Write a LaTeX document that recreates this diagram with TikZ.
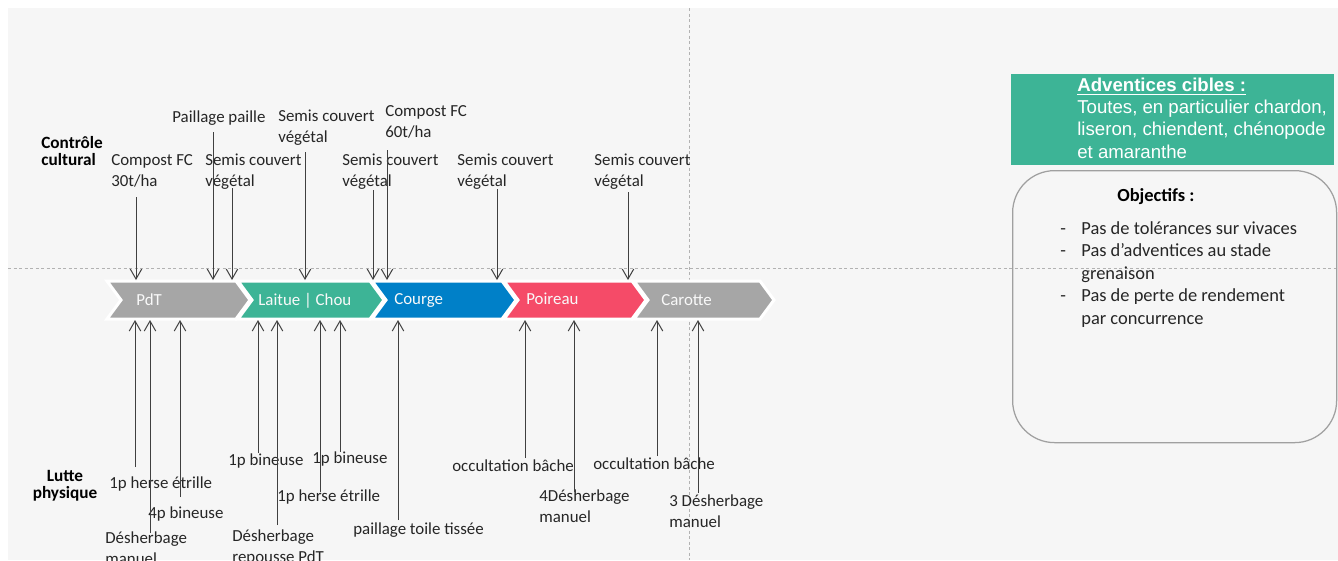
\documentclass[tikz,border=0pt]{standalone}
\usepackage{fontspec}
\setmainfont{Carlito}
\newfontfamily\arialfont{Liberation Sans}
\usetikzlibrary{arrows.meta}
\definecolor{ashgray}{RGB}{166, 166, 166}
\definecolor{jade}{RGB}{61, 180, 150}
\definecolor{ocean}{RGB}{0, 128, 200}
\definecolor{coral}{RGB}{245, 75, 104}
\definecolor{paper}{RGB}{246, 246, 246}
\definecolor{inkgray}{RGB}{64, 64, 64}
\definecolor{textgray}{RGB}{38, 38, 38}
\definecolor{dashgray}{RGB}{178, 178, 178}
\definecolor{framegray}{RGB}{160, 160, 160}

\tikzset{
  arr/.style={draw=inkgray, line width=0.2mm, -{Straight Barb[length=2mm,width=2.3mm]}},
  lbl/.style={text=textgray, inner sep=0pt, align=left, anchor=base west, font=\fontsize{9.6}{11.4}\selectfont},
  sidelbl/.style={text=black, inner sep=0pt, align=center, anchor=base, font=\bfseries\fontsize{9.8}{9.4}\selectfont},
  cropbox/.style={fill=#1, draw=white, line width=0.6mm},
  croplbl/.style={text=white!95!gray, inner sep=0pt, anchor=base west, font=\fontsize{9.6}{11}\selectfont},
  guideline/.style={draw=dashgray, line width=0.2mm, dash pattern=on 0.6mm off 0.5mm}
}

\begin{document}
\begin{tikzpicture}[x=0.2mm, y=-0.2mm]
            \useasboundingbox (0,0) rectangle (1338,560);
            \clip (0,0) rectangle (1338,560);
            \fill[paper] (8,8) rectangle (1338,560);
            % Guide lines
            \draw[guideline] (8,268) -- (1338,268);
            \draw[guideline] (689,8) -- (689,560);
            % Rotation
            \filldraw[cropbox=ashgray] (107,281) -- (236,281) -- (250,300) -- (236,319) -- (107,319) -- (121,300) -- cycle;
            \filldraw[cropbox=jade]    (238,281) -- (370,281) -- (384,300) -- (370,319) -- (238,319) -- (252,300) -- cycle;
            \filldraw[cropbox=ocean]   (372,281) -- (502,281) -- (516,300) -- (502,319) -- (372,319) -- (386,300) -- cycle;
            \filldraw[cropbox=coral]   (504,281) -- (632,281) -- (646,300) -- (632,319) -- (504,319) -- (518,300) -- cycle;
            \filldraw[cropbox=ashgray] (634,281) -- (760,281) -- (774,300) -- (760,319) -- (634,319) -- (648,300) -- cycle;
            \node (pdt)     [croplbl] at (136,305) {PdT};
            \node (laitue)  [croplbl] at (258,305) {Laitue | Chou};
            \node (courge)  [croplbl] at (394,304) {Courge};
            \node (poireau) [croplbl] at (526,304) {Poireau};
            \node (carotte) [croplbl] at (661,305) {Carotte};
            \coordinate (bandtop) at (0,280);
            \coordinate (bandbot) at (0,320);
            % Row titles (base = last line)
            \node (controle) [sidelbl, align=left, anchor=base west] at (41,165) {Contrôle\\cultural};
            \node (lutte)    [sidelbl] at (65,498) {Lutte\\physique};
            % Controle cultural
            \node (compost30) [lbl] at (111,186) {Compost FC\\30t/ha};
            \node (paille)    [lbl] at (172,122) {Paillage paille};
            \node (semisA)    [lbl] at (205,186) {Semis couvert\\végétal};
            \node (semisB)    [lbl] at (278,142) {Semis couvert\\végétal};
            \node (semisC)    [lbl] at (342,186) {Semis couvert\\végétal};
            \node (compost60) [lbl] at (385,137) {Compost FC\\60t/ha};
            \node (semisD)    [lbl] at (457,186) {Semis couvert\\végétal};
            \node (semisE)    [lbl] at (594,186) {Semis couvert\\végétal};
            \coordinate (tcompost30) at (136,197);
            \coordinate (tpaille)    at (213,132);
            \coordinate (tsemisA)    at (232,188);
            \coordinate (tsemisB)    at (305,152);
            \coordinate (tsemisC)    at (373,190);
            \coordinate (tcompost60) at (387,150);
            \coordinate (tsemisD)    at (497,189);
            \coordinate (tsemisE)    at (628,192);
            \draw[arr] (tcompost30) -- (tcompost30 |- bandtop);
            \draw[arr] (tpaille)    -- (tpaille    |- bandtop);
            \draw[arr] (tsemisA)    -- (tsemisA    |- bandtop);
            \draw[arr] (tsemisB)    -- (tsemisB    |- bandtop);
            \draw[arr] (tsemisC)    -- (tsemisC    |- bandtop);
            \draw[arr] (tcompost60) -- (tcompost60 |- bandtop);
            \draw[arr] (tsemisD)    -- (tsemisD    |- bandtop);
            \draw[arr] (tsemisE)    -- (tsemisE    |- bandtop);
            % Lutte physique
            \node (herseA)    [lbl] at (109,488) {1p herse étrille};
            \node (manuelA)   [lbl] at (105,564) {Désherbage\\manuel};
            \node (bineuseA)  [lbl] at (148,518) {4p bineuse};
            \node (bineuseB)  [lbl] at (228,465) {1p bineuse};
            \node (repousse)  [lbl] at (232,562) {Désherbage\\repousse PdT};
            \node (herseB)    [lbl] at (277,501) {1p herse étrille};
            \node (bineuseC)  [lbl] at (312,463) {1p bineuse};
            \node (toile)     [lbl] at (353,534) {paillage toile tissée};
            \node (bacheA)    [lbl] at (452,471) {occultation bâche};
            \node (manuelB)   [lbl] at (539,522) {4Désherbage\\manuel};
            \node (bacheB)    [lbl] at (593,469) {occultation bâche};
            \node (manuelC)   [lbl] at (669,527) {3 Désherbage\\manuel};
            \coordinate (therseA)   at (135,467);
            \coordinate (tmanuelA)  at (150,533);
            \coordinate (tbineuseA) at (180,497);
            \coordinate (tbineuseB) at (258,453);
            \coordinate (trepousse) at (277,525);
            \coordinate (therseB)   at (320,492);
            \coordinate (tbineuseC) at (340,452);
            \coordinate (ttoile)    at (398,520);
            \coordinate (tbacheA)   at (525,458);
            \coordinate (tmanuelB)  at (574,492);
            \coordinate (tbacheB)   at (657,456);
            \coordinate (tmanuelC)  at (698,493);
            \draw[arr] (therseA)   -- (therseA   |- bandbot);
            \draw[arr] (tmanuelA)  -- (tmanuelA  |- bandbot);
            \draw[arr] (tbineuseA) -- (tbineuseA |- bandbot);
            \draw[arr] (tbineuseB) -- (tbineuseB |- bandbot);
            \draw[arr] (trepousse) -- (trepousse |- bandbot);
            \draw[arr] (therseB)   -- (therseB   |- bandbot);
            \draw[arr] (tbineuseC) -- (tbineuseC |- bandbot);
            \draw[arr] (ttoile)    -- (ttoile    |- bandbot);
            \draw[arr] (tbacheA)   -- (tbacheA   |- bandbot);
            \draw[arr] (tmanuelB)  -- (tmanuelB  |- bandbot);
            \draw[arr] (tbacheB)   -- (tbacheB   |- bandbot);
            \draw[arr] (tmanuelC)  -- (tmanuelC  |- bandbot);
            % Adventices cibles
            \node (cibles) [fill=jade, inner sep=0pt, minimum width=64.6mm, minimum height=18.2mm, anchor=north west] at (1011,74) {};
            \node (ciblestxt) [text=white, inner sep=0pt, align=left, anchor=base west, font=\arialfont\fontsize{10.6}{12.6}\selectfont] at (1077,158)
                 {\textbf{\underline{Adventices cibles :}}\\Toutes, en particulier chardon,\\liseron, chiendent, chénopode\\et amaranthe};
            % Objectifs
            \node (objbox) [draw=framegray, line width=0.25mm, rounded corners=8.4mm, inner sep=0pt, minimum width=64.8mm, minimum height=54.4mm, anchor=north west] at (1012,170) {};
            \node (objtitle) [text=black, inner sep=0pt, anchor=base west, font=\bfseries\fontsize{10.5}{12}\selectfont] at (1117,201) {Objectifs :};
            \node (objlist) [text=textgray, inner sep=0pt, align=left, anchor=base west, font=\fontsize{10.5}{12.8}\selectfont] at (1060,324)
                 {\makebox[4.2mm][l]{-}Pas de tolérances sur vivaces\\
                  \makebox[4.2mm][l]{-}Pas d{\char39}adventices au stade\\
                  \hspace*{4.2mm}grenaison\\
                  \makebox[4.2mm][l]{-}Pas de perte de rendement\\
                  \hspace*{4.2mm}par concurrence};
        \end{tikzpicture}
\end{document}
